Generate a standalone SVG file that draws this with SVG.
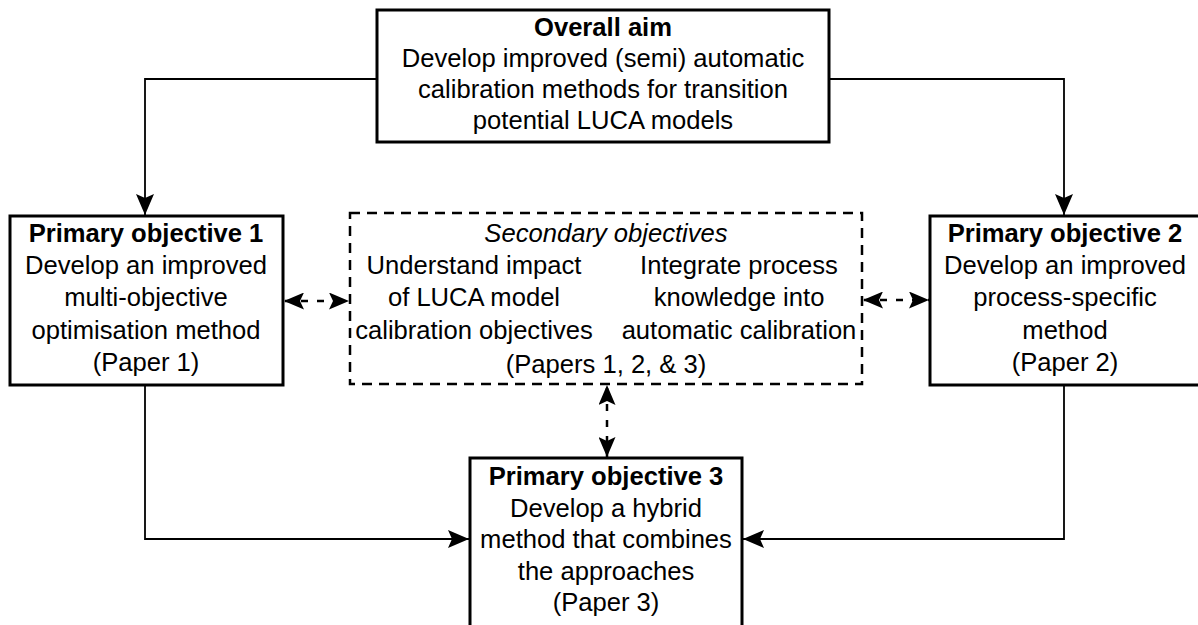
<svg xmlns="http://www.w3.org/2000/svg" width="1198" height="625" viewBox="0 0 1198 625">
<style>
  .box { fill: #ffffff; stroke: #000000; stroke-width: 3; }
  .dbox { fill: #ffffff; stroke: #000000; stroke-width: 2.5; stroke-dasharray: 10 7; }
  .t { font-family: "Liberation Sans", Arial, Helvetica, sans-serif; font-size: 25.6px; fill: #000000; text-anchor: middle; }
  .b { font-weight: bold; }
  .i { font-style: italic; }
  .conn { fill: none; stroke: #000000; stroke-width: 1.8; }
  .dconn { fill: none; stroke: #000000; stroke-width: 2.5; stroke-dasharray: 7 9; }
</style>
<defs>
  <marker id="arr" markerUnits="userSpaceOnUse" markerWidth="22" markerHeight="18" refX="21" refY="9" orient="auto">
    <path d="M0,0 L21,9 L0,18 L4,9 z" fill="#000000"/>
  </marker>
  <marker id="darr" markerUnits="userSpaceOnUse" markerWidth="21" markerHeight="17" refX="20" refY="8.5" orient="auto-start-reverse">
    <path d="M0,0 L20,8.5 L0,17 L4,8.5 z" fill="#000000" stroke="none"/>
  </marker>
</defs>
<rect width="1198" height="625" fill="#ffffff"/>
<g id="connectors">
  <path class="conn" d="M377,79 H145 V215" marker-end="url(#arr)"/>
  <path class="conn" d="M829,79 H1064 V215" marker-end="url(#arr)"/>
  <path class="conn" d="M145,385 V539 H469" marker-end="url(#arr)"/>
  <path class="conn" d="M1064,385 V539 H743" marker-end="url(#arr)"/>
  <path class="dconn" d="M284,301 H349" stroke-dashoffset="-17" marker-start="url(#darr)" marker-end="url(#darr)"/>
  <path class="dconn" d="M863,300 H929" stroke-dashoffset="-17" marker-start="url(#darr)" marker-end="url(#darr)"/>
  <path class="dconn" d="M607,385 V457" stroke-dashoffset="-19" marker-start="url(#darr)" marker-end="url(#darr)"/>
</g>
<g id="overall-aim">
  <rect class="box" x="377" y="10" width="452" height="132"/>
  <text class="t b" x="603" y="36">Overall aim</text>
  <text class="t" x="603" y="67">Develop improved (semi) automatic</text>
  <text class="t" x="603" y="98">calibration methods for transition</text>
  <text class="t" x="603" y="129">potential LUCA models</text>
</g>
<g id="primary-1">
  <rect class="box" x="10" y="216" width="273" height="169"/>
  <text class="t b" x="146" y="242">Primary objective 1</text>
  <text class="t" x="146" y="274">Develop an improved</text>
  <text class="t" x="146" y="306">multi-objective</text>
  <text class="t" x="146" y="339">optimisation method</text>
  <text class="t" x="146" y="371">(Paper 1)</text>
</g>
<g id="secondary">
  <rect class="dbox" x="350" y="213" width="512" height="171"/>
  <text class="t i" x="606" y="242">Secondary objectives</text>
  <text class="t" x="474" y="274">Understand impact</text>
  <text class="t" x="474" y="306">of LUCA model</text>
  <text class="t" x="474" y="339">calibration objectives</text>
  <text class="t" x="739" y="274">Integrate process</text>
  <text class="t" x="739" y="306">knowledge into</text>
  <text class="t" x="739" y="339">automatic calibration</text>
  <text class="t" x="606" y="373">(Papers 1, 2, &amp; 3)</text>
</g>
<g id="primary-2">
  <rect class="box" x="930" y="216" width="273" height="169"/>
  <text class="t b" x="1065" y="242">Primary objective 2</text>
  <text class="t" x="1065" y="274">Develop an improved</text>
  <text class="t" x="1065" y="306">process-specific</text>
  <text class="t" x="1065" y="339">method</text>
  <text class="t" x="1065" y="371">(Paper 2)</text>
</g>
<g id="primary-3">
  <rect class="box" x="470" y="458" width="272" height="180"/>
  <text class="t b" x="606" y="485">Primary objective 3</text>
  <text class="t" x="606" y="517">Develop a hybrid</text>
  <text class="t" x="606" y="548">method that combines</text>
  <text class="t" x="606" y="580">the approaches</text>
  <text class="t" x="606" y="611">(Paper 3)</text>
</g>
</svg>
